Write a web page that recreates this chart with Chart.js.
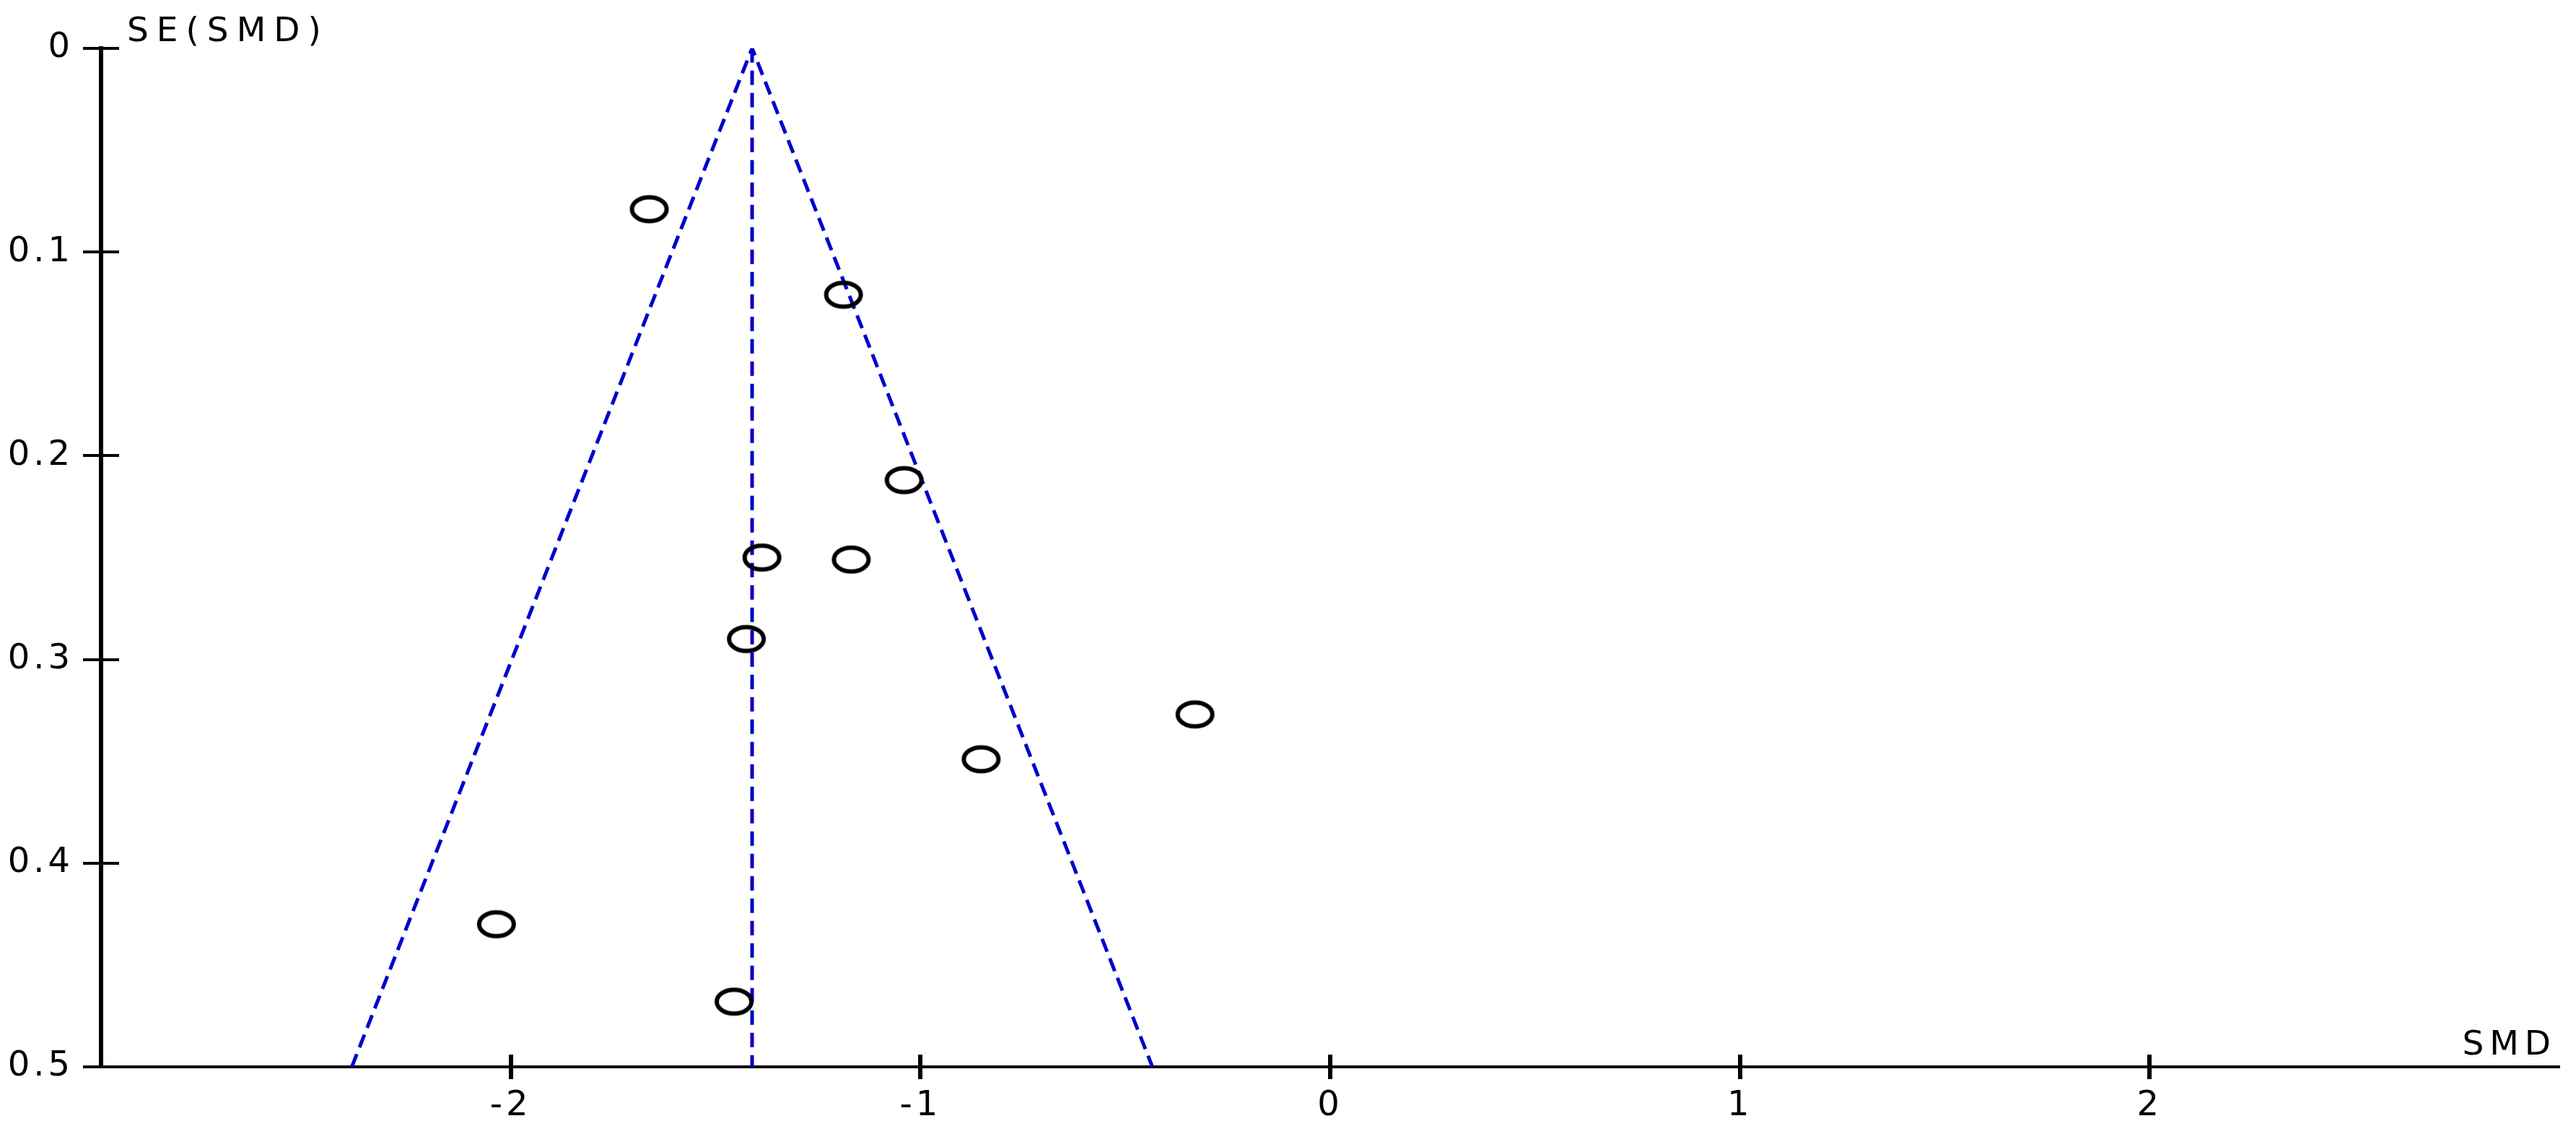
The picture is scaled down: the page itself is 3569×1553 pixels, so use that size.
<!DOCTYPE html>
<html lang="en">
<head>
  <meta charset="UTF-8">
  <title>Funnel plot</title>
  <script src="https://cdn.jsdelivr.net/npm/chart.js"></script>
  <style>
    html, body { margin: 0; padding: 0; background: #fff; }
    #wrap { width: 3569px; height: 1553px; }
  </style>
</head>
<body>
<div id="wrap">
  <canvas id="funnel" width="3569" height="1553"></canvas>
</div>

<script>
  // === Data ===
  const smd = [-1.662, -1.188, -1.040, -1.387, -1.169, -1.425, -0.330, -0.852, -2.035, -1.455];
  const se  = [0.079, 0.121, 0.212, 0.250, 0.251, 0.290, 0.327, 0.349, 0.430, 0.468];

  // funnel limits (left bottom, apex, right bottom) and pooled line
  const funnelX  = [-2.388, -1.411, -0.434];
  const funnelSE = [0.5, 0, 0.5];
  const pooledX  = [-1.411, -1.411];
  const pooledSE = [0, 0.5];

  const xTicks = [-2, -1, 0, 1, 2];
  const yTicks = [0, 0.1, 0.2, 0.3, 0.4, 0.5];

  const BLUE = "#0000CC";
  const FONT = "'DejaVu Sans', 'Liberation Sans', sans-serif";

  // open ellipse marker (slightly wider than tall, like the original)
  const marker = document.createElement("canvas");
  marker.width = 62;
  marker.height = 46;
  (function () {
    const c = marker.getContext("2d");
    c.strokeStyle = "#000";
    c.lineWidth = 6;
    c.beginPath();
    c.ellipse(31, 23, 24, 16.5, 0, 0, Math.PI * 2);
    c.stroke();
  })();

  // ticks that cross the axis lines + axis titles
  const axisDeco = {
    id: "axisDeco",
    beforeDraw(chart) {
      chart.ctx.letterSpacing = "5px";
    },
    afterDraw(chart) {
      const ctx = chart.ctx;
      const area = chart.chartArea;
      const xs = chart.scales.x, ys = chart.scales.y;
      ctx.save();
      ctx.strokeStyle = "#000";

      // x ticks (vertical marks)
      ctx.lineWidth = 6;
      ctx.beginPath();
      xTicks.forEach(v => {
        const px = Math.round(xs.getPixelForValue(v));
        ctx.moveTo(px, area.bottom - 17);
        ctx.lineTo(px, area.bottom + 17);
      });
      ctx.stroke();

      // y ticks (horizontal marks)
      ctx.lineWidth = 4;
      ctx.beginPath();
      yTicks.forEach(v => {
        const py = Math.round(ys.getPixelForValue(v));
        ctx.moveTo(area.left - 25, py);
        ctx.lineTo(area.left + 25, py);
      });
      ctx.stroke();

      ctx.fillStyle = "#000";
      ctx.font = "47px " + FONT;
      ctx.textBaseline = "alphabetic";
      ctx.letterSpacing = "11px";
      ctx.textAlign = "left";
      ctx.fillText("SE(SMD)", area.left + 36, area.top - 10);
      ctx.letterSpacing = "8px";
      ctx.textAlign = "right";
      ctx.fillText("SMD", area.right - 4, area.bottom - 17);
      ctx.restore();
    }
  };

  new Chart(document.getElementById("funnel"), {
    type: "scatter",
    data: {
      datasets: [
        {
          label: "Studies",
          data: smd.map((v, i) => ({ x: v, y: se[i] })),
          pointStyle: marker,
          pointRadius: 22,
          showLine: false
        },
        {
          label: "Pseudo 95% limits",
          data: funnelX.map((v, i) => ({ x: v, y: funnelSE[i] })),
          showLine: true,
          pointRadius: 0,
          borderColor: BLUE,
          borderWidth: 5,
          borderDash: [19, 10],
          fill: false
        },
        {
          label: "Pooled SMD",
          data: pooledX.map((v, i) => ({ x: v, y: pooledSE[i] })),
          showLine: true,
          pointRadius: 0,
          borderColor: BLUE,
          borderWidth: 5,
          borderDash: [20, 11],
          fill: false
        }
      ]
    },
    options: {
      responsive: false,
      animation: false,
      layout: { padding: { top: 60, right: 12, left: 0, bottom: 0 } },
      plugins: {
        legend: { display: false },
        tooltip: { enabled: false }
      },
      scales: {
        x: {
          type: "linear",
          min: -3,
          max: 3,
          afterBuildTicks: s => { s.ticks = xTicks.map(v => ({ value: v })); },
          afterFit: s => { s.height = 75; },
          grid: { display: false, drawTicks: false },
          border: { display: true, color: "#000", width: 4 },
          ticks: {
            color: "#000",
            padding: 26,
            font: { family: FONT, size: 48 },
            callback: v => String(v)
          }
        },
        y: {
          type: "linear",
          reverse: true,
          min: 0,
          max: 0.5,
          afterBuildTicks: s => { s.ticks = yTicks.map(v => ({ value: v })); },
          afterFit: s => { s.width = 140; },
          grid: { display: false, drawTicks: false },
          border: { display: true, color: "#000", width: 6 },
          ticks: {
            color: "#000",
            padding: 38,
            font: { family: FONT, size: 48 },
            callback: v => String(Math.round(v * 10) / 10)
          }
        }
      }
    },
    plugins: [axisDeco]
  });
</script>
</body>
</html>
